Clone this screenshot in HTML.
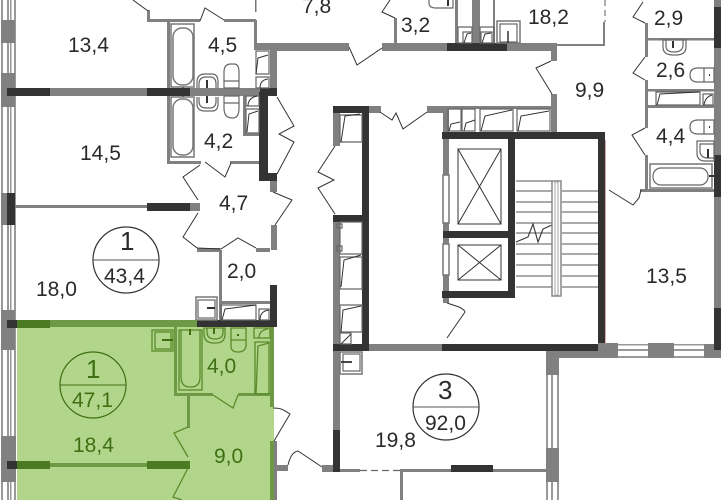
<!DOCTYPE html>
<html><head><meta charset="utf-8"><style>
html,body{margin:0;padding:0;background:#fff}
svg{display:block}
text{font-family:"Liberation Sans",sans-serif;font-size:21px;fill:#2a2a2a}
.g text,text.g{fill:#3f6f12}
.big{font-size:26px}
.w{fill:#808080}.d{fill:#333}
.l{fill:none;stroke:#333;stroke-width:1}
.f{fill:#fff;stroke:#777;stroke-width:1.5}
.m{fill:none;stroke:#666;stroke-width:1.2}
.gl{fill:none;stroke:#4a7a1c;stroke-width:1.2}
.gw{fill:#6f9a45}.gd{fill:#4c7a22}
</style></head><body>
<svg width="721" height="500" viewBox="0 0 721 500" xmlns="http://www.w3.org/2000/svg">
<rect width="721" height="500" fill="#fff"/>
<rect x="17" y="320" width="257" height="180" fill="#b1d68b"/>

<!-- left window wall -->
<g fill="#999">
<rect x="1" y="0" width="2" height="500"/><rect x="7" y="0" width="2" height="500"/><rect x="10" y="0" width="1.5" height="500"/><rect x="14" y="0" width="2" height="500"/>
</g>
<g class="w">
<rect x="1" y="20" width="14" height="23"/><rect x="1" y="73" width="14" height="34"/><rect x="1" y="193" width="14" height="32"/>
<rect x="1" y="310" width="14" height="40"/><rect x="1" y="436" width="15" height="46"/>
</g>
<rect x="7" y="193" width="8" height="32" class="d"/>

<!-- upper left walls -->
<g class="w">
<rect x="147" y="10" width="3" height="11"/><rect x="147" y="19" width="53" height="3"/><rect x="224" y="19" width="32" height="3"/>
<rect x="254" y="20" width="3" height="24"/><rect x="254" y="43" width="46" height="7"/>
<rect x="270" y="46" width="7" height="46"/>
<rect x="167" y="22" width="3" height="142"/><rect x="167" y="161" width="34" height="3"/><rect x="230" y="161" width="30" height="3"/>
<rect x="50" y="88" width="97" height="8"/><rect x="190" y="88" width="70" height="8"/>
<rect x="15" y="205" width="135" height="3"/><rect x="190" y="203" width="10" height="8"/>
<rect x="243" y="96" width="3" height="40"/><rect x="243" y="133" width="17" height="3"/>
<rect x="270" y="180" width="7" height="12"/><rect x="271" y="225" width="6" height="25"/>
<rect x="197" y="248" width="23" height="4"/><rect x="256" y="248" width="14" height="4"/>
<rect x="219" y="250" width="3" height="70"/><rect x="220" y="301" width="50" height="3"/>
</g>
<g class="d">
<rect x="7" y="88" width="43" height="8"/><rect x="147" y="88" width="43" height="8"/><rect x="260" y="88" width="17" height="8"/>
<rect x="259" y="92" width="9" height="88"/><rect x="259" y="173" width="18" height="8"/>
<rect x="147" y="203" width="43" height="8"/>
<rect x="270" y="285" width="7" height="37"/>
<rect x="7" y="320" width="10" height="8"/><rect x="197" y="320" width="80" height="7"/>
<rect x="7" y="461" width="10" height="8"/>
<rect x="182" y="80" width="2" height="18"/><rect x="182" y="90" width="2" height="13"/>
</g>
<rect x="255" y="0" width="1.5" height="12" fill="#777"/>

<!-- bath 4,5 & 4,2 -->
<rect x="171" y="24" width="23" height="63" class="f"/><rect x="173" y="28" width="20" height="57" rx="9" class="f"/>
<rect x="171" y="97" width="23" height="60" class="f"/><rect x="173" y="99" width="20" height="56" rx="9" class="f"/>
<path d="M197 88v-6q0-8 8-8h7q6 0 6 8v6M197 97v7q0 7 8 7h7q6 0 6-7v-7" class="m"/>
<path d="M199 88v-4q0-7 7-7h4q6 0 6 7v4M199 97v4q0 7 7 7h4q6 0 6-7v-4" class="m"/>
<rect x="206" y="80" width="2" height="8" class="d"/><rect x="206" y="96" width="2" height="7" class="d"/>
<path d="M224 88V72q0-8 7-8h3q5 0 5 8v16zM224 96v12q0 10 8 10h1q6 0 6-10V96zM224 81h15M224 103h15" class="m" fill="none"/>
<!-- closets left -->
<path d="M256 51h13v23h-13zM256 77h13v11h-13zM246 96h13v10h-13zM246 109h13v24h-13z" class="m"/>
<path d="M256 74l2-16 10-3M260 88q0-8 8-9M248 106q0-8 9-10M247 132l2-18 9-3" class="l" stroke-width=".8"/>

<!-- doors upper left -->
<path d="M148 11l-15-11M200 21l5-13 19 12M200 165l-17 12 15 23M198 213l-15 24 14 11M205 162l20 15 6-14M273 192l19 8-17 25M277 97l17 29-15 8 15 8-17 32" class="l" fill="none"/>
<path d="M197 248l24 1 17-11 18 10" class="l"/>

<!-- 2,0 fixtures -->
<rect x="196" y="297" width="21" height="23" class="f"/><rect x="198" y="300" width="17" height="18" class="m"/>
<path d="M207 308h8" stroke="#333" stroke-width="2"/>
<path d="M221 305h35v15h-35zM259 309h10v11h-10z" class="m"/><path d="M222 320l3-11 31-4M260 320q0-9 9-10" class="l" stroke-width=".8"/>

<!-- green room walls -->
<g class="gw">
<rect x="50" y="320" width="147" height="7"/><rect x="50" y="463" width="97" height="4"/>
<rect x="270" y="327" width="4" height="80"/><rect x="270" y="441" width="4" height="59"/>
<rect x="174" y="327" width="3" height="69"/><rect x="174" y="393" width="39" height="3"/><rect x="238" y="393" width="13" height="3"/>
<rect x="187" y="395" width="3" height="33"/><rect x="250" y="393" width="20" height="3"/>
</g>
<g class="gd">
<rect x="17" y="320" width="33" height="8"/><rect x="17" y="461" width="33" height="8"/><rect x="147" y="461" width="43" height="8"/>
</g>
<rect x="274" y="441" width="3" height="59" class="w"/><rect x="277" y="465" width="11" height="6" class="w"/>
<g fill="none" stroke="#5a8a2a" stroke-width="1.3">
<rect x="152" y="330" width="21" height="21"/><rect x="155" y="332" width="16" height="17"/>
<rect x="179" y="330" width="23" height="60"/><path d="M181 330v47q0 10 9 10h1q9 0 9-10v-47"/>
<path d="M204 328v6q0 9 10 9h2q9 0 9-9v-6zM207 328v4q0 7 8 7t8-7v-4"/>
<path d="M231 328h15v12h-15zM231 340v6q0 6 7 6t8-6v-6"/>
<path d="M254 328h16v10h-16zM255 342h14v52h-14z"/><path d="M256 394l2-48 11-3M259 338q0-8 9-9"/>
<path d="M213 395l20 13 5-13M188 427l-14 6 14 24M188 468l-15 29 9 3"/>
</g>
<path d="M162 340h11M190 329v6M214 328v6M238 334v2" stroke="#3f6f12" stroke-width="2" fill="none"/>
<path d="M273 408q5 0 8 1t9 5l-16 27M288 465q3-13 10-14l24 16" class="l"/>

<!-- corridor walls -->
<g class="w">
<rect x="277" y="43" width="72" height="8"/><rect x="382" y="43" width="65" height="8"/><rect x="507" y="43" width="44" height="8"/>
<rect x="551" y="43" width="6" height="18"/><rect x="556" y="44" width="49" height="2"/><rect x="603" y="22" width="2" height="23"/>
<rect x="394" y="18" width="3" height="26"/>
<rect x="551" y="94" width="6" height="38"/><rect x="369" y="106" width="12" height="7"/><rect x="427" y="106" width="18" height="7"/>
<rect x="443" y="106" width="6" height="26"/><rect x="449" y="106" width="102" height="3"/>
<rect x="333" y="113" width="7" height="33"/><rect x="333" y="222" width="7" height="122"/><rect x="333" y="351" width="7" height="79"/>
<rect x="369" y="344" width="74" height="7"/>
<rect x="322" y="465" width="11" height="7"/><rect x="340" y="469" width="20" height="3"/><rect x="400" y="469" width="51" height="3"/><rect x="493" y="469" width="53" height="3"/>
<rect x="400" y="470" width="3" height="30"/>
<rect x="443" y="138" width="6" height="37"/><rect x="443" y="223" width="6" height="8"/><rect x="443" y="275" width="6" height="16"/><rect x="443" y="298" width="6" height="5"/>
<rect x="455" y="0" width="3" height="43"/><rect x="472" y="0" width="8" height="43"/><rect x="493" y="0" width="2" height="43"/>
</g>
<path d="M360 470.500h40" stroke="#666" stroke-width="1.300" stroke-dasharray="7 4"/>
<path d="M605 0v22" stroke="#777" stroke-width="1.200" stroke-dasharray="6 4"/>
<g class="d">
<rect x="447" y="43" width="60" height="8"/>
<rect x="333" y="106" width="36" height="7"/><rect x="362" y="106" width="7" height="245"/>
<rect x="333" y="215" width="36" height="7"/><rect x="333" y="344" width="36" height="7"/>
<rect x="333" y="430" width="7" height="42"/>
<rect x="451" y="465" width="42" height="7"/>
<rect x="442" y="132" width="163" height="7"/><rect x="598" y="132" width="7" height="219"/><rect x="442" y="344" width="163" height="7"/>
<rect x="508" y="132" width="7" height="166"/><rect x="442" y="291" width="73" height="7"/><rect x="443" y="231" width="67" height="7"/>
</g>

<!-- doors corridor -->
<path d="M349 47l8 18 25-17M395 18l-13-6 8-12M551 61l-15 7 16 26M380 112l12 8 4-7 7 16 24-17M335 146l-17 26 16 8-16 8 17 26M447 303l12 4q6 3 6 5l-18 26" class="l"/>

<!-- closets -->
<path d="M448 109h13v22h-13zM462 109h13v22h-13zM480 109h33v22h-33zM517 109h33v22h-33z" class="m"/>
<path d="M449 131l2-7 9-2M464 131l2-8 9-3M481 131l4-15 27-6M518 131l3-15 28-5" class="l" stroke-width=".8"/>
<path d="M340 115h22v27h-22zM340 222h22v32h-22zM340 257h22v32h-22zM340 305h22v27h-22zM340 333h11v11h-11zM337 224h5v4h-5zM337 246h5v5h-5z" class="m"/>
<path d="M341 142l4-26 15-2M341 287l3-27 17-5M341 332l2-22 18-4M341 344l10-10" class="l" stroke-width=".8"/>
<rect x="340" y="352" width="22" height="22" class="f"/><rect x="343" y="354" width="17" height="17" class="m"/><path d="M341 362h11" stroke="#333" stroke-width="1.800"/>

<!-- top fixtures -->
<path d="M458 27h14v16h-14zM480 27h14v16h-14zM463 32h9v11h-9zM481 32h11v11h-11z" class="m"/>
<path d="M464 43l3-9 4-1M482 43l3-9 6-1" class="l" stroke-width=".8"/>
<rect x="497" y="21" width="23" height="22" class="f"/><rect x="500" y="24" width="17" height="18" class="m"/><path d="M508 31v12" stroke="#333" stroke-width="1.500"/>
<path d="M429 0v3q0 5 7 5h10l7 0V0" class="m"/><path d="M448 0v6" stroke="#333" stroke-width="2"/>

<!-- elevators -->
<rect x="443" y="175" width="6" height="48" class="f"/>
<rect x="443" y="238" width="6" height="6" class="w"/><rect x="443" y="244" width="6" height="31" class="f"/>
<g fill="none" stroke="#333" stroke-width="1">
<rect x="458" y="149" width="43" height="75"/><path d="M458 149l43 75M501 149l-43 75"/>
<rect x="458" y="245" width="43" height="35"/><path d="M458 245l43 35M501 245l-43 35"/>
</g>
<!-- stairs -->
<g stroke="#555" stroke-width="1.100" fill="none">
<path d="M516 181h36M516 191h36M516 202h36M516 212h36M516 223h36M516 233h36M516 244h36M516 254h36M516 265h36M516 276h36M516 287h36"/>
<path d="M562 191h36M562 202h36M562 212h36M562 223h36M562 233h36M562 244h36M562 254h36M562 265h36M562 276h36M562 287h36"/>
<path d="M516 242l12-5 5-13 5 18 5-13 9-4" stroke="#333"/>
<rect x="552" y="181" width="9" height="115" stroke="#888" stroke-width="1.500" fill="#fff"/><rect x="555" y="182" width="3" height="113" stroke="#aaa"/>
</g>

<!-- right part -->
<g class="w">
<rect x="714" y="0" width="7" height="358"/>
<rect x="648" y="38" width="66" height="2.500"/><rect x="648" y="89" width="66" height="2.500"/><rect x="648" y="105" width="66" height="3"/>
<rect x="645" y="23" width="3" height="34"/><rect x="645" y="80" width="3" height="48"/><rect x="645" y="155" width="3" height="37"/>
<rect x="640" y="189" width="74" height="3"/>
<rect x="559" y="351" width="41" height="7"/><rect x="598" y="343" width="20" height="15"/><rect x="648" y="343" width="26" height="15"/><rect x="704" y="344" width="17" height="14"/>
<rect x="546" y="351" width="13" height="24"/><rect x="546" y="448" width="13" height="34"/>
</g>
<g class="d"><rect x="714" y="7" width="7" height="41"/><rect x="714" y="155" width="7" height="42"/><rect x="714" y="308" width="7" height="42"/></g>
<g fill="#999"><rect x="618" y="344" width="30" height="1.500"/><rect x="618" y="349" width="30" height="2"/><rect x="618" y="356" width="30" height="2"/><rect x="674" y="344" width="30" height="1.500"/><rect x="674" y="349" width="30" height="2"/><rect x="674" y="356" width="30" height="2"/>
<rect x="546" y="375" width="2" height="73"/><rect x="551" y="375" width="2" height="73"/><rect x="557" y="375" width="2" height="73"/><rect x="546" y="482" width="2" height="18"/><rect x="551" y="482" width="2" height="18"/><rect x="557" y="482" width="2" height="18"/></g>
<path d="M643 2l-10 15 12 6M645 57l-12 16 12 7M645 128l-13 7 13 20M641 190l-2 8-6 7-24-15" class="l"/>
<rect x="650" y="164" width="62" height="24" class="f"/><rect x="653" y="168" width="55" height="17" rx="8" class="m"/>
<path d="M709 176h5" stroke="#333" stroke-width="2"/>
<path d="M697 141h17v20h-9q-8 0-8-8zM700 144h14v14h-6q-7 0-8-6zM663 40v7q0 8 10 8h3q10 0 10-8v-7zM666 40v6q0 6 8 6t9-6v-6zM714 68h-16q-8 0-8 7t8 7h16zM714 120h-16q-8 0-8 7t8 7h16zM704 68v14M704 120v14" class="m"/>
<path d="M673 41v7M708 149v9M709 75h1M709 127h1" stroke="#333" stroke-width="2"/>
<path d="M656 92h44v13h-44zM703 94h10v11h-10z" class="m"/>
<path d="M657 105l3-11 39-2M704 105q1-8 8-10" class="l" stroke-width=".8"/>
<path d="M605.500 140v205" stroke="#c99" stroke-width=".8"/>

<!-- circles -->
<circle cx="126" cy="260" r="33" fill="none" stroke="#333" stroke-width="1.200"/><path d="M93 260h66" stroke="#555"/>
<circle cx="446" cy="407" r="33" fill="none" stroke="#333" stroke-width="1.200"/><path d="M413 407h66" stroke="#555"/>
<circle cx="93" cy="385" r="33" fill="none" stroke="#3f6f12" stroke-width="1.200"/><path d="M60 385h66" stroke="#3f6f12"/>

<!-- labels -->
<text x="68" y="52">13,4</text><text x="208" y="52">4,5</text><text x="80" y="160">14,5</text><text x="204" y="148">4,2</text>
<text x="219" y="210">4,7</text><text x="227" y="278">2,0</text><text x="36" y="296">18,0</text>
<text x="120" y="250" class="big">1</text><text x="104" y="283">43,4</text>
<text x="302" y="13">7,8</text><text x="401" y="32">3,2</text><text x="528" y="24">18,2</text><text x="575" y="97">9,9</text>
<text x="654" y="25">2,9</text><text x="656" y="77">2,6</text><text x="656" y="143">4,4</text><text x="646" y="283">13,5</text>
<text x="375" y="447">19,8</text><text x="438" y="399" class="big">3</text><text x="425" y="430">92,0</text>
<g class="g">
<text x="86" y="378" class="big">1</text><text x="72" y="407">47,1</text><text x="73" y="452">18,4</text><text x="207" y="373">4,0</text><text x="214" y="463">9,0</text>
</g>
</svg>
</body></html>
